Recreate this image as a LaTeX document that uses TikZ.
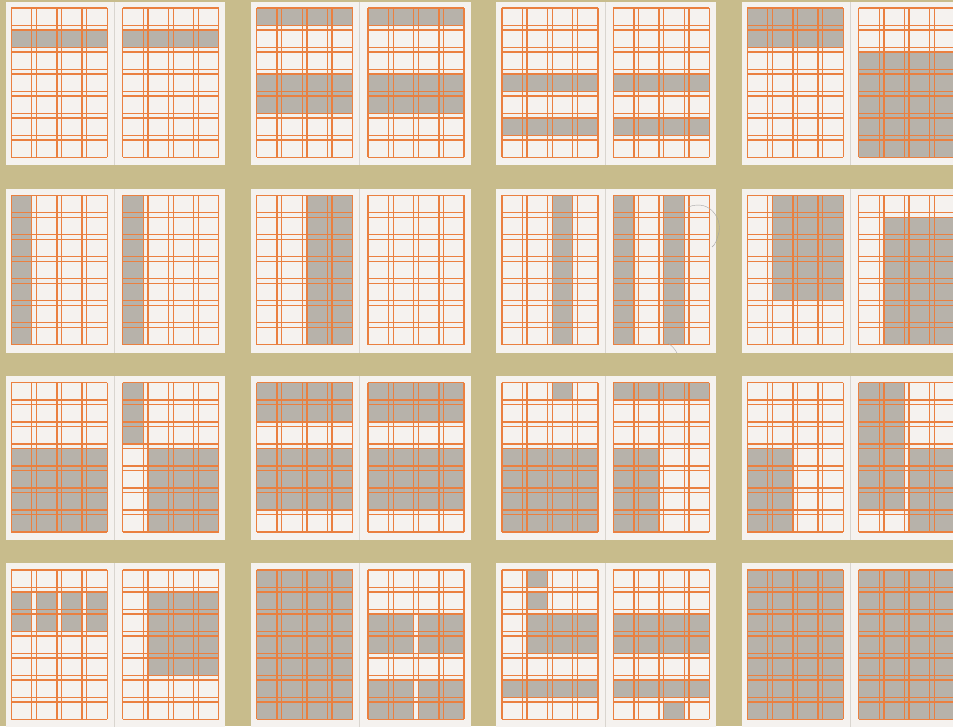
\documentclass[tikz,border=0pt]{standalone}
\definecolor{bg}{HTML}{C8BC8C}
\definecolor{paper}{HTML}{F5F2EF}
\definecolor{blk}{HTML}{B7B2AA}
\definecolor{gridc}{HTML}{EA8040}
\definecolor{spinec}{HTML}{D9D5CF}
\tikzset{gridline/.style={draw=gridc,line width=1.3pt,line cap=butt}, blockfill/.style={fill=blk}}
\newcommand\gpage[3]{%
  \foreach \ca/\ra/\cb/\rb in {#3} {
    \ifnum\ca>0
    \fill[blockfill] ({#1+(\ca-1)*25.18},{#2+(\ra-1)*22}) rectangle ({#1+(\cb-1)*25.18+20.48},{#2+(\rb-1)*22+17.33});
    \fi
  }
  \foreach \i in {0,1,2,3} {
    \draw[gridline] ({#1+\i*25.18},#2) -- ++(0,149.33);
    \draw[gridline] ({#1+\i*25.18+20.48},#2) -- ++(0,149.33);
  }
  \foreach \j in {0,...,6} {
    \draw[gridline] (#1,{#2+\j*22}) -- ++(96.02,0);
    \draw[gridline] (#1,{#2+\j*22+17.33}) -- ++(96.02,0);
  }
}
\newcommand\spread[4]{%
  \pgfmathsetmacro\sx{11.3+(#1-1)*245.3}
  \pgfmathsetmacro\sy{8+(#2-1)*187.3}
  \pgfmathsetmacro\sxr{\sx+111.5}
  \fill[spinec] ({\sx-5.6},{\sy-6.5}) rectangle ({\sx+214},{\sy+157.3});
  \fill[paper] ({\sx-5.6},{\sy-6.5}) rectangle ({\sx+102.6},{\sy+157.3});
  \fill[paper] ({\sx+103.8},{\sy-6.5}) rectangle ({\sx+214},{\sy+157.3});
  \gpage{\sx}{\sy}{#3}
  \gpage{\sxr}{\sy}{#4}
}
\begin{document}
\begin{tikzpicture}[x=1pt,y=-1pt]
\useasboundingbox (0,0) rectangle (953,726);
\fill[bg] (0,0) rectangle (953,726);
% row 1
\spread{1}{1}{1/2/4/2}{1/2/4/2}
\spread{2}{1}{1/1/4/1,1/4/4/5}{1/1/4/1,1/4/4/5}
\spread{3}{1}{1/4/4/4,1/6/4/6}{1/4/4/4,1/6/4/6}
\spread{4}{1}{1/1/4/2}{1/3/4/7}
% row 2
\spread{1}{2}{1/1/1/7}{1/1/1/7}
\spread{2}{2}{3/1/4/7}{0/0/0/0}
\spread{3}{2}{3/1/3/7}{1/1/1/7,3/1/3/7}
\spread{4}{2}{2/1/4/5}{2/2/4/7}
% row 3
\spread{1}{3}{1/4/4/7}{1/1/1/3,2/4/4/7}
\spread{2}{3}{1/1/4/2,1/4/4/6}{1/1/4/2,1/4/4/6}
\spread{3}{3}{3/1/3/1,1/4/4/7}{1/1/4/1,1/4/2/7}
\spread{4}{3}{1/4/2/7}{1/1/2/6,3/4/4/7}
% row 4
\spread{1}{4}{1/2/1/3,2/2/2/3,3/2/3/3,4/2/4/3}{2/2/4/5}
\spread{2}{4}{1/1/4/7}{1/3/2/4,3/3/4/4,1/6/2/7,3/6/4/7}
\spread{3}{4}{2/1/2/1,2/2/2/2,2/3/4/4,1/6/4/6}{1/3/4/4,1/6/4/6,3/7/3/7}
\spread{4}{4}{1/1/4/7}{1/1/4/7}
% pencil marks
\draw[gray!70,line width=0.4pt] (688,207) .. controls (712,198) and (722,222) .. (719,232) .. controls (717,240) and (715,245) .. (712,247);
\draw[gray!70,line width=0.4pt] (668,343) .. controls (672,346) and (675,349) .. (677,353);
\end{tikzpicture}
\end{document}
